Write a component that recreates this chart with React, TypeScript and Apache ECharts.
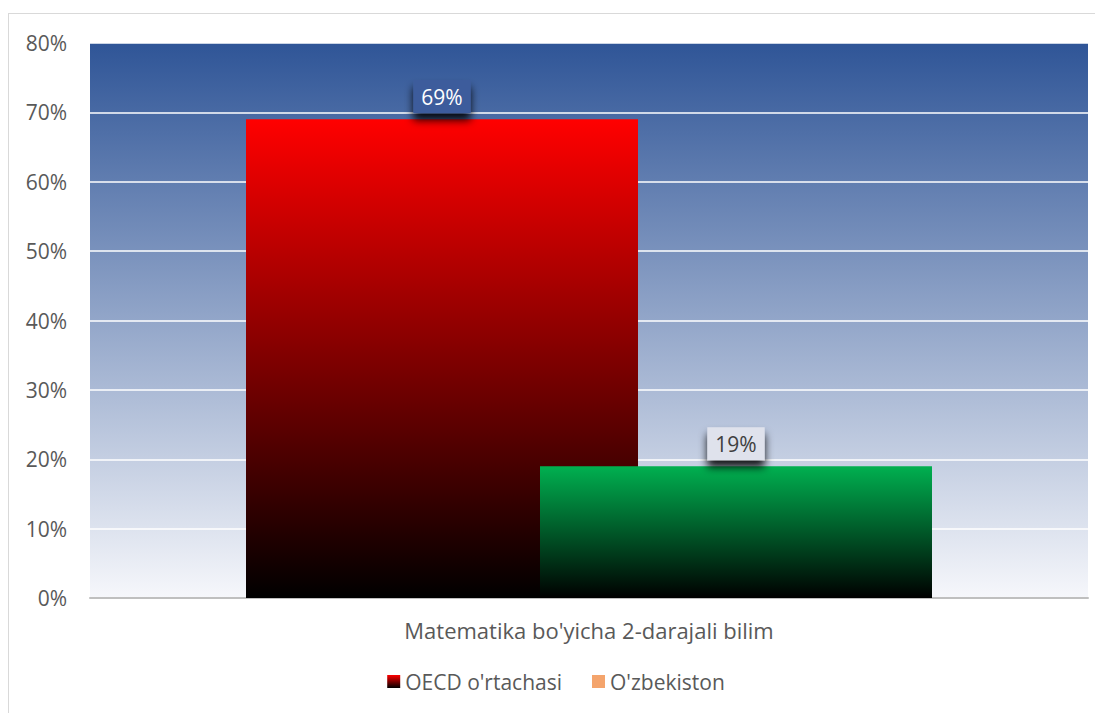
import React, { useEffect, useRef } from "react";
import * as echarts from "echarts";

const categories = ["Matematika bo'yicha 2-darajali bilim"];
const seriesNames = ["OECD o'rtachasi", "O'zbekiston"];
const oecdValues = [69];
const uzbValues = [19];
const yTicks = [0, 10, 20, 30, 40, 50, 60, 70, 80];

const FONT = "'Open Sans'";

export default function App() {
  const ref = useRef<HTMLDivElement>(null);
  useEffect(() => {
    if (!ref.current) return;
    const chart = echarts.init(ref.current, null, { renderer: "svg" });
    const lg = (top: string, bottom: string) =>
      new echarts.graphic.LinearGradient(0, 0, 0, 1, [
        { offset: 0, color: top },
        { offset: 1, color: bottom },
      ]);
    chart.setOption({
      animation: false,
      grid: {
        left: 81,
        right: 15,
        top: 29,
        bottom: 120,
        show: true,
        borderWidth: 0,
        backgroundColor: lg("#2f5597", "#f6f7fb"),
      },
      legend: {
        bottom: 21,
        left: "center",
        itemWidth: 13,
        itemHeight: 13,
        itemGap: 30,
        icon: "rect",
        textStyle: { fontFamily: FONT, fontSize: 21, color: "#595959" },
        data: [
          { name: seriesNames[0] },
          { name: seriesNames[1], itemStyle: { color: "#f4a46c" } },
        ],
      },
      xAxis: {
        type: "category",
        data: categories,
        axisLine: { lineStyle: { color: "#bfbfbf", width: 2 } },
        axisTick: { show: false },
        axisLabel: {
          fontFamily: FONT,
          fontSize: 22,
          color: "#595959",
          margin: 21,
        },
      },
      yAxis: {
        type: "value",
        min: yTicks[0],
        max: yTicks[yTicks.length - 1],
        interval: 10,
        axisLine: { show: false },
        axisTick: { show: false },
        splitLine: { lineStyle: { color: "#ffffff", width: 1.5 } },
        axisLabel: {
          formatter: "{value}%",
          fontFamily: FONT,
          fontSize: 21,
          color: "#595959",
          margin: 23,
        },
      },
      series: [
        {
          name: seriesNames[0],
          type: "bar",
          data: oecdValues,
          barWidth: 392,
          barGap: "-25%",
          itemStyle: { color: lg("#ff0000", "#000000") },
          label: {
            show: true,
            position: "top",
            distance: 6,
            formatter: "{c}%",
            fontFamily: FONT,
            fontSize: 21,
            color: "#ffffff",
            backgroundColor: "#3d5c9c",
            padding: [6, 8, 6, 8],
            shadowColor: "rgba(0,0,0,0.9)",
            shadowBlur: 8,
            shadowOffsetY: 7,
          },
        },
        {
          name: seriesNames[1],
          type: "bar",
          data: uzbValues,
          barWidth: 392,
          itemStyle: { color: lg("#00b050", "#000000") },
          label: {
            show: true,
            position: "top",
            distance: 6,
            formatter: "{c}%",
            fontFamily: FONT,
            fontSize: 21,
            color: "#404040",
            backgroundColor: "#dfe2ec",
            padding: [6, 8, 6, 8],
            shadowColor: "rgba(0,0,0,0.9)",
            shadowBlur: 8,
            shadowOffsetY: 7,
          },
        },
      ],
    });
    return () => chart.dispose();
  }, []);
  return (
    <div
      ref={ref}
      style={{
        width: 1095,
        height: 705,
        marginTop: 5,
        borderLeft: "1px solid #d9d9d9",
        borderTop: "1px solid #d9d9d9",
        boxSizing: "border-box",
      }}
    />
  );
}
